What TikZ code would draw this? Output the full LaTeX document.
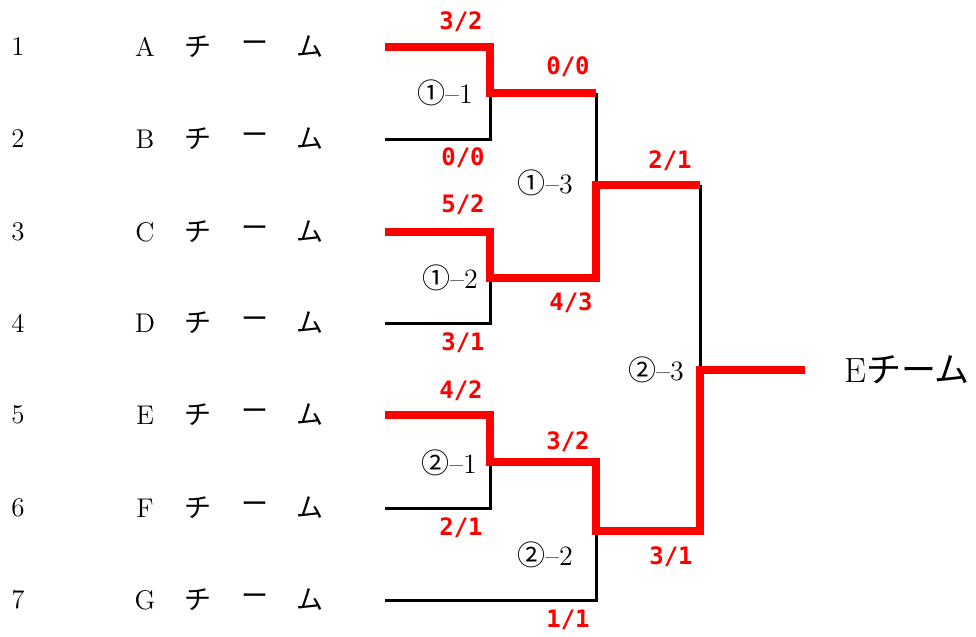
\documentclass[tikz,border=0pt]{standalone}
\usepackage{fontspec}
\newfontfamily\jpfont{Noto Sans CJK JP}
\newfontfamily\scorefont{DejaVu Sans Mono}
\usetikzlibrary{positioning}
\tikzset{
 win/.style={draw=red,line width=3.75pt},
 lose/.style={draw=black,line width=1.5pt},
 score/.style={text=red,font=\scorefont\bfseries\fontsize{12}{14}\selectfont},
 team/.style={font=\fontsize{13.5}{16}\selectfont},
 match/.style={font=\fontsize{14}{16}\selectfont}
}
\newcommand{\kana}[1]{{\jpfont #1}}

\begin{document}
\begin{tikzpicture}[x=0.5pt,y=-0.5pt]
 \useasboundingbox (0,0) rectangle (976,637);
 % teams
 \foreach \i/\y/\t in {1/47/A,2/139/B,3/232/C,4/323/D,5/415/E,6/508/F,7/600/G} {
  \coordinate (s\i) at (385,\y);
  \node[team] (n\i) at (18,\y) {\i};
  \node[team] (t\i) at (145,\y) {\t};
  \node[team] (k\i) at (198,\y) {\kana{チ}};
  \node[team] (b\i) at (255,\y) {\kana{ー}};
  \node[team] (u\i) at (310,\y) {\kana{ム}};
 }
 % coordinates
 \coordinate (m11) at (490,93);
 \coordinate (m12) at (490,278);
 \coordinate (m21) at (490,462);
 \coordinate (m13) at (596,185);
 \coordinate (m22) at (596,531);
 \coordinate (m23) at (700,370);
 \coordinate (w) at (805,370);

 % losers
 \draw[lose] (s2) -| (m11);
 \draw[lose] (s4) -| (m12);
 \draw[lose] (s6) -| (m21);
 \draw[lose] (s7) -| (m22);
 \draw[lose] (m11 -| m13) -- (m13);
 \draw[lose] (m13 -| m23) -- (m23);

 % winners
 \draw[win] (s1) -| (m11) -- (m11 -| m13);
 \draw[win] (s3) -| (m12) -| (m13) -- (m13 -| m23);
 \draw[win] (s5) -| (m21) -| (m22) -| (m23) -- (w);

 % match labels
 \node[match] (l11) at (445,93) {\kana{①}--1};
 \node[match] (l12) at (450,278) {\kana{①}--2};
 \node[match] (l13) at (545,183) {\kana{①}--3};
 \node[match] (l21) at (449,463) {\kana{②}--1};
 \node[match] (l22) at (545,555) {\kana{②}--2};
 \node[match] (l23) at (656,370) {\kana{②}--3};
 \node[font=\fontsize{17.5}{21}\selectfont] (champ) at (907,370) {E\kana{チーム}};

 % scores
 \node[score] (p1) at (461,22) {3/2};
 \node[score] (p2) at (463,158) {0/0};
 \node[score] (p3) at (463,205) {5/2};
 \node[score] (p4) at (463,343) {3/1};
 \node[score] (p5) at (461,391) {4/2};
 \node[score] (p6) at (461,528) {2/1};
 \node[score] (p7) at (568,620) {1/1};
 \node[score] (p11) at (568,67) {0/0};
 \node[score] (p12) at (571,303) {4/3};
 \node[score] (p21) at (568,442) {3/2};
 \node[score] (p13) at (670,161) {2/1};
 \node[score] (p22) at (671,557) {3/1};
\end{tikzpicture}
\end{document}
